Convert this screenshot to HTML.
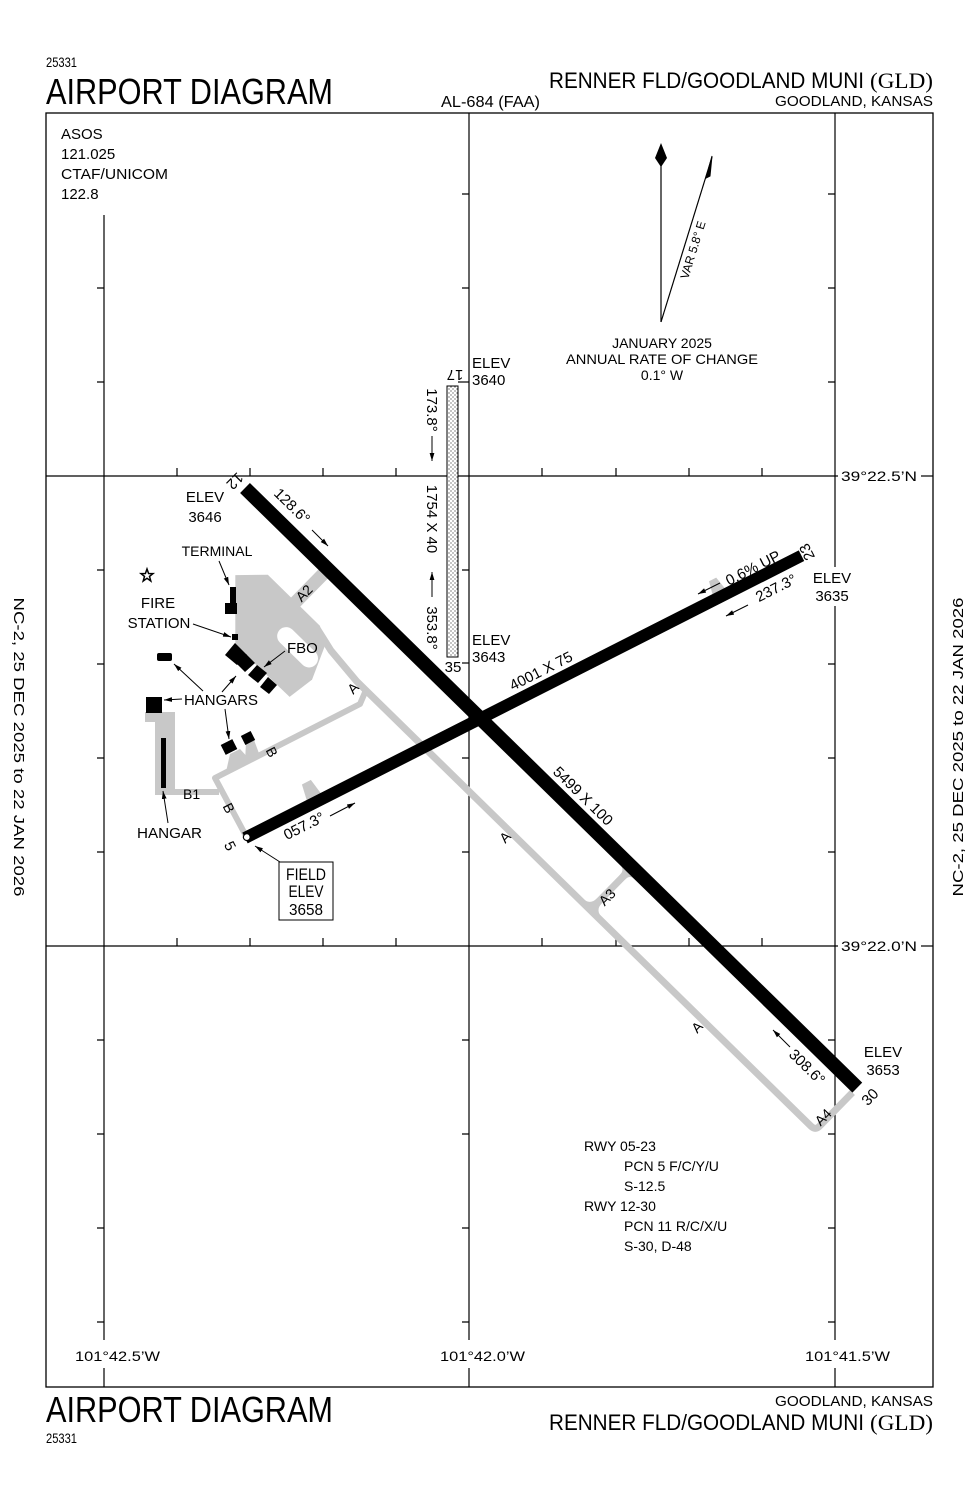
<!DOCTYPE html>
<html><head><meta charset="utf-8">
<style>
html,body{margin:0;padding:0;background:#fff;}
svg{display:block;font-family:"Liberation Sans",sans-serif;font-size:14px;}
text{fill:#000;}
</style></head><body>
<svg width="978" height="1500" viewBox="0 0 978 1500" font-size="14" xmlns="http://www.w3.org/2000/svg">
<defs>
<pattern id="dots" width="4" height="4" patternUnits="userSpaceOnUse"><rect width="4" height="4" fill="#fff"/><circle cx="1" cy="1" r="0.6" fill="#333"/><circle cx="3" cy="3" r="0.6" fill="#333"/></pattern>
<marker id="ah" viewBox="0 0 10 6" refX="10" refY="3" markerWidth="8" markerHeight="5" markerUnits="userSpaceOnUse" orient="auto"><path d="M0,0L10,3L0,6z" fill="#000"/></marker>
</defs>

<!-- header -->
<text x="46" y="67" font-size="14" textLength="31" lengthAdjust="spacingAndGlyphs">25331</text>
<text x="46" y="104" font-size="36" textLength="287" lengthAdjust="spacingAndGlyphs">AIRPORT DIAGRAM</text>
<text x="441" y="107" font-size="16" textLength="99" lengthAdjust="spacingAndGlyphs">AL-684 (FAA)</text>
<text x="549" y="88" font-size="22" textLength="315" lengthAdjust="spacingAndGlyphs">RENNER FLD/GOODLAND MUNI</text>
<text x="870" y="88" font-size="22" font-family="Liberation Serif, serif" textLength="63" lengthAdjust="spacingAndGlyphs">(GLD)</text>
<text x="775" y="106" font-size="15" textLength="158" lengthAdjust="spacingAndGlyphs">GOODLAND, KANSAS</text>

<!-- footer -->
<text x="46" y="1422" font-size="36" textLength="287" lengthAdjust="spacingAndGlyphs">AIRPORT DIAGRAM</text>
<text x="46" y="1443" font-size="14" textLength="31" lengthAdjust="spacingAndGlyphs">25331</text>
<text x="775" y="1406" font-size="15" textLength="158" lengthAdjust="spacingAndGlyphs">GOODLAND, KANSAS</text>
<text x="549" y="1430" font-size="22" textLength="315" lengthAdjust="spacingAndGlyphs">RENNER FLD/GOODLAND MUNI</text>
<text x="870" y="1430" font-size="22" font-family="Liberation Serif, serif" textLength="63" lengthAdjust="spacingAndGlyphs">(GLD)</text>

<!-- side texts -->
<text transform="translate(14,747) rotate(90)" text-anchor="middle" font-size="15" textLength="299" lengthAdjust="spacingAndGlyphs">NC-2,  25 DEC 2025  to  22 JAN 2026</text>
<text transform="translate(963,747) rotate(-90)" text-anchor="middle" font-size="15" textLength="299" lengthAdjust="spacingAndGlyphs">NC-2,  25 DEC 2025  to  22 JAN 2026</text>

<!-- frame -->
<rect x="46" y="113" width="887" height="1274" fill="none" stroke="#000" stroke-width="1.3"/>

<!-- grid -->
<g stroke="#000" stroke-width="1.2" fill="none">
<line x1="104" y1="215" x2="104" y2="1340"/><line x1="104" y1="1368" x2="104" y2="1387"/>
<line x1="469" y1="113" x2="469" y2="1340"/><line x1="469" y1="1368" x2="469" y2="1387"/>
<line x1="835" y1="113" x2="835" y2="567"/><line x1="835" y1="606" x2="835" y2="1340"/><line x1="835" y1="1368" x2="835" y2="1387"/>
<line x1="46" y1="476" x2="838" y2="476"/><line x1="921" y1="476" x2="933" y2="476"/>
<line x1="46" y1="946" x2="838" y2="946"/><line x1="921" y1="946" x2="933" y2="946"/>
<path d="M97,288H104M97,382H104M97,570H104M97,664H104M97,758H104M97,852H104M97,1040H104M97,1134H104M97,1228H104M97,1322H104"/>
<path d="M462,194H469M462,288H469M462,570H469M462,758H469M462,852H469M462,1040H469M462,1134H469M462,1228H469M462,1322H469"/>
<path d="M828,194H835M828,288H835M828,382H835M828,664H835M828,758H835M828,852H835M828,1040H835M828,1134H835M828,1228H835M828,1322H835"/>
<path d="M177,468V476M250,468V476M323,468V476M396,468V476M542,468V476M616,468V476M689,468V476M762,468V476"/>
<path d="M177,938V946M250,938V946M323,938V946M396,938V946M542,938V946M616,938V946M689,938V946M762,938V946"/>
</g>
<text x="841" y="481" textLength="76" lengthAdjust="spacingAndGlyphs">39°22.5’N</text>
<text x="841" y="951" textLength="76" lengthAdjust="spacingAndGlyphs">39°22.0’N</text>
<text x="75" y="1361" textLength="85" lengthAdjust="spacingAndGlyphs">101°42.5’W</text>
<text x="440" y="1361" textLength="85" lengthAdjust="spacingAndGlyphs">101°42.0’W</text>
<text x="805" y="1361" textLength="85" lengthAdjust="spacingAndGlyphs">101°41.5’W</text>

<!-- ASOS -->
<text x="61" y="139" font-size="15">ASOS</text>
<text x="61" y="159" font-size="15">121.025</text>
<text x="61" y="179" font-size="15" textLength="107" lengthAdjust="spacingAndGlyphs">CTAF/UNICOM</text>
<text x="61" y="199" font-size="15">122.8</text>

<!-- compass -->
<polygon points="661,143 667,158 661,167 655,158" fill="#000"/>
<line x1="661" y1="165" x2="661" y2="322" stroke="#000" stroke-width="1.2"/>
<line x1="661" y1="322" x2="712" y2="157" stroke="#000" stroke-width="1.2"/>
<polygon points="712,156 706,178 710,176" fill="#000" stroke="#000" stroke-width="1"/>
<text transform="translate(693,250) rotate(-72.8)" text-anchor="middle" dy="4" font-size="12">VAR 5.8° E</text>
<text x="662" y="348" text-anchor="middle" font-size="14">JANUARY 2025</text>
<text x="662" y="364" text-anchor="middle" font-size="14" textLength="192" lengthAdjust="spacingAndGlyphs">ANNUAL RATE OF CHANGE</text>
<text x="662" y="380" text-anchor="middle" font-size="14">0.1° W</text>

<!-- gray pavement -->
<g fill="#c8c8c8" stroke="none">
<g transform="translate(245,488) rotate(44.4)">
<polygon points="54,69 77,46 150,46 168,58 182,90 178,118 103,119"/>
<rect x="124" y="68" width="50" height="18" rx="9" fill="#fff"/>
<path d="M150,50 L175,56 L215,60 L851,60 Q857,60 857,54 L857,7" stroke="#c8c8c8" stroke-width="7" fill="none" stroke-linejoin="round"/>
<line x1="116" y1="6" x2="116" y2="50" stroke="#c8c8c8" stroke-width="13"/>
<line x1="542" y1="6" x2="542" y2="60" stroke="#c8c8c8" stroke-width="7"/>
<path d="M528,57 Q538.5,57 538.5,47 L545.5,47 Q545.5,57 556,57 Z"/>
<path d="M532,7 Q538.5,7 538.5,14 L545.5,14 Q545.5,7 552,7 Z"/>
</g>
<g transform="translate(245,838) rotate(-26.9)">
<polygon points="72,-5 88,-5 85,-22 75,-22"/>
<polygon points="527,-5 541,-5 538,-19 530,-19"/>
</g>
<path d="M246,836 L215,778 L360,704 L366,690" stroke="#c8c8c8" stroke-width="6" fill="none" stroke-linejoin="round"/>
<line x1="172" y1="792" x2="219" y2="792" stroke="#c8c8c8" stroke-width="6"/>
<rect x="145" y="712" width="30" height="10"/>
<rect x="155" y="712" width="20" height="83"/>
<polygon points="230,754 240,749 252,762 226,772"/>
<polygon points="246,742 254,740 260,756 245,763"/>
</g>

<!-- runway 17-35 -->
<rect x="447" y="386" width="11" height="271" fill="url(#dots)" stroke="#000" stroke-width="1"/>
<line x1="458" y1="382" x2="469" y2="382" stroke="#000" stroke-width="1.2"/>
<line x1="462" y1="663" x2="469" y2="663" stroke="#000" stroke-width="1.2"/>

<!-- runways -->
<g transform="translate(245,488) rotate(44.4)"><rect x="0" y="-7" width="857" height="14" fill="#000"/></g>
<g transform="translate(245,838) rotate(-26.9)"><rect x="0" y="-6" width="624" height="12" fill="#000"/><circle cx="2" cy="0" r="3.4" fill="#fff" stroke="#000" stroke-width="1.2"/></g>

<!-- buildings -->
<g fill="#000">
<rect x="230" y="587" width="6" height="24"/>
<rect x="225" y="603" width="12" height="11"/>
<rect x="232" y="634" width="6" height="6"/>
<polygon points="225,655 235,643 247,655 237,665"/>
<polygon points="237,664 246,654 255,663 245,672"/>
<polygon points="248,675 257,665 267,673 258,683"/>
<polygon points="260,687 268,677 277,685 269,694"/>
<rect x="157" y="653" width="15" height="8" rx="2"/>
<rect x="146" y="697" width="16" height="16"/>
<rect x="161" y="738" width="5" height="50"/>
<g transform="translate(229,747) rotate(-27)"><rect x="-6.5" y="-5.5" width="13" height="11"/></g>
<g transform="translate(248,738) rotate(-27)"><rect x="-5.5" y="-5" width="11" height="10"/></g>
</g>
<polygon points="147,569 148.6,573.5 153,573.6 149.5,576.4 150.8,581 147,578.3 143.2,581 144.5,576.4 141,573.6 145.4,573.5" fill="#fff" stroke="#000" stroke-width="1.5"/>

<!-- leader arrows -->
<g stroke="#000" stroke-width="1" fill="none" marker-end="url(#ah)">
<line x1="219" y1="561" x2="229" y2="585"/>
<line x1="193" y1="624" x2="231" y2="637"/>
<line x1="285" y1="651" x2="264" y2="667"/>
<line x1="182" y1="699" x2="164" y2="700"/>
<line x1="203" y1="691" x2="174" y2="664"/>
<line x1="222" y1="692" x2="236" y2="676"/>
<line x1="225" y1="709" x2="229" y2="739"/>
<line x1="168" y1="823" x2="163" y2="791"/>
<line x1="280" y1="862" x2="255" y2="846"/>
<line x1="312" y1="530" x2="328" y2="546"/>
<line x1="790" y1="1047" x2="773" y2="1030"/>
<line x1="330" y1="816" x2="355" y2="803"/>
<line x1="748" y1="605" x2="726" y2="616"/>
<line x1="720" y1="583" x2="698" y2="594"/>
<line x1="432" y1="436" x2="432" y2="461"/>
<line x1="432" y1="597" x2="432" y2="572"/>
</g>

<!-- building labels -->
<text x="217" y="556" text-anchor="middle" font-size="14">TERMINAL</text>
<text x="158" y="608" text-anchor="middle" font-size="15">FIRE</text>
<text x="159" y="628" text-anchor="middle" font-size="15">STATION</text>
<text x="287" y="653" font-size="15">FBO</text>
<text x="184" y="705" font-size="15" textLength="74" lengthAdjust="spacingAndGlyphs">HANGARS</text>
<text x="137" y="838" font-size="15" textLength="65" lengthAdjust="spacingAndGlyphs">HANGAR</text>
<text x="183" y="799" font-size="14">B1</text>
<text transform="translate(272,752) rotate(63)" text-anchor="middle" dy="5" font-size="14">B</text>
<text transform="translate(229,808) rotate(63)" text-anchor="middle" dy="5" font-size="14">B</text>

<!-- field elev box -->
<rect x="279" y="862" width="54" height="58" fill="#fff" stroke="#000" stroke-width="1"/>
<text x="306" y="880" text-anchor="middle" font-size="17" textLength="40" lengthAdjust="spacingAndGlyphs">FIELD</text>
<text x="306" y="897" text-anchor="middle" font-size="17" textLength="35" lengthAdjust="spacingAndGlyphs">ELEV</text>
<text x="306" y="915" text-anchor="middle" font-size="16" textLength="34" lengthAdjust="spacingAndGlyphs">3658</text>

<!-- elevations -->
<g font-size="15">
<text x="205" y="502" text-anchor="middle">ELEV</text>
<text x="205" y="522" text-anchor="middle">3646</text>
<text x="472" y="368">ELEV</text>
<text x="472" y="385">3640</text>
<text x="472" y="645">ELEV</text>
<text x="472" y="662">3643</text>
<text x="832" y="583" text-anchor="middle">ELEV</text>
<text x="832" y="601" text-anchor="middle">3635</text>
<text x="883" y="1057" text-anchor="middle">ELEV</text>
<text x="883" y="1075" text-anchor="middle">3653</text>
</g>

<!-- runway numbers -->
<text transform="translate(235,481) rotate(134.4)" text-anchor="middle" dy="5" font-size="15">12</text>
<text transform="translate(870,1097) rotate(-45.6)" text-anchor="middle" dy="5" font-size="15">30</text>
<text transform="translate(230,846) rotate(63.1)" text-anchor="middle" dy="5" font-size="15">5</text>
<text transform="translate(807,552) rotate(-116.9)" text-anchor="middle" dy="5" font-size="15">23</text>
<text transform="translate(455,375) rotate(180)" text-anchor="middle" dy="5" font-size="15">17</text>
<text transform="translate(453,667)" text-anchor="middle" dy="5" font-size="15">35</text>

<!-- runway annotations -->
<g font-size="15">
<text transform="translate(292,506) rotate(44.4)" text-anchor="middle" dy="5">128.6°</text>
<text transform="translate(583,796) rotate(44.4)" text-anchor="middle" dy="5">5499 X 100</text>
<text transform="translate(807,1067) rotate(44.4)" text-anchor="middle" dy="5">308.6°</text>
<text transform="translate(541,671) rotate(-26.9)" text-anchor="middle" dy="5">4001 X 75</text>
<text transform="translate(304,826) rotate(-26.9)" text-anchor="middle" dy="5">057.3°</text>
<text transform="translate(776,588) rotate(-26.9)" text-anchor="middle" dy="5">237.3°</text>
<text transform="translate(753,568) rotate(-26.9)" text-anchor="middle" dy="5">0.6% UP</text>
<text transform="translate(432,410) rotate(90)" text-anchor="middle" dy="5">173.8°</text>
<text transform="translate(432,519) rotate(90)" text-anchor="middle" dy="5">1754 X 40</text>
<text transform="translate(432,628) rotate(90)" text-anchor="middle" dy="5">353.8°</text>
</g>

<!-- taxiway labels -->
<g font-size="14">
<text transform="translate(304,593) rotate(-45.6)" text-anchor="middle" dy="5">A2</text>
<text transform="translate(353,688) rotate(-45.6)" text-anchor="middle" dy="5">A</text>
<text transform="translate(505,837) rotate(-45.6)" text-anchor="middle" dy="5">A</text>
<text transform="translate(697,1027) rotate(-45.6)" text-anchor="middle" dy="5">A</text>
<text transform="translate(607,897) rotate(-45.6)" text-anchor="middle" dy="5">A3</text>
<text transform="translate(823,1117) rotate(-45.6)" text-anchor="middle" dy="5">A4</text>
</g>

<!-- runway data -->
<g font-size="14">
<text x="584" y="1151">RWY 05-23</text>
<text x="624" y="1171">PCN 5 F/C/Y/U</text>
<text x="624" y="1191">S-12.5</text>
<text x="584" y="1211">RWY 12-30</text>
<text x="624" y="1231">PCN 11 R/C/X/U</text>
<text x="624" y="1251">S-30, D-48</text>
</g>
</svg>
</body></html>
